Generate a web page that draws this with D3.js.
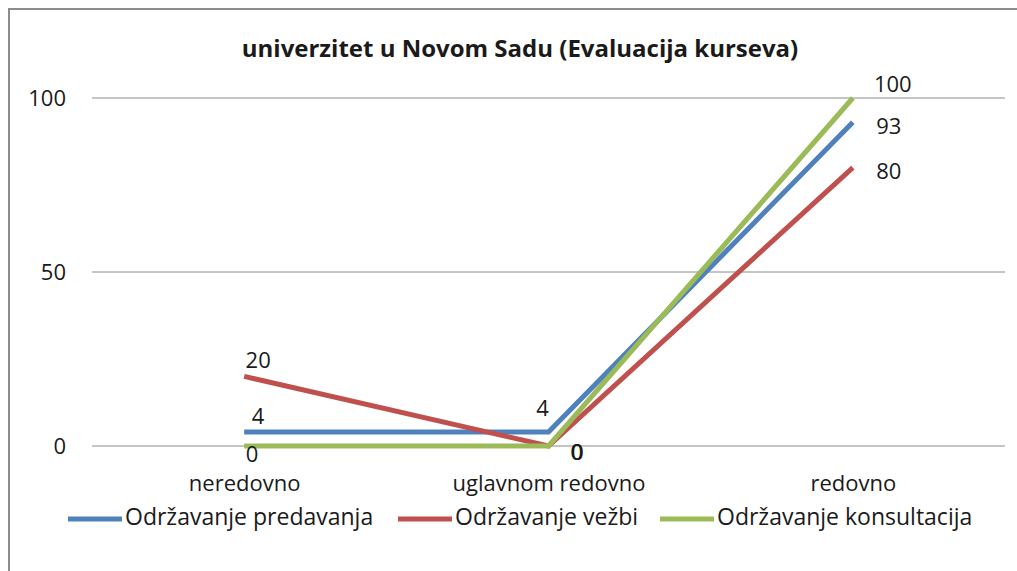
<!DOCTYPE html>
<html>
<head>
<meta charset="utf-8">
<script src="https://cdn.jsdelivr.net/npm/d3@7"></script>
<style>
  body { margin: 0; background: #fff; }
  text { font-family: "Open Sans", "Noto Sans", sans-serif; fill: #1a1a1a; }
</style>
</head>
<body>
<div id="chart"></div>
<script>
// chart data
const categories = ["neredovno", "uglavnom redovno", "redovno"];
const seriesNames = ["Održavanje predavanja", "Održavanje vežbi", "Održavanje konsultacija"];
const predavanja = [4, 4, 93];
const vezbi = [20, 0, 80];
const konsultacije = [0, 0, 100];
const yTicks = [0, 50, 100];
const titleText = "univerzitet u Novom Sadu (Evaluacija kurseva)";

const colors = ["#4F81BD", "#C0504D", "#9BBB59"];
// label offsets per series / point (dx, dy) relative to the point
const labelOffsets = [
    [[14, -14], [-6, -22], [36, 6]],
    [[14, -14], [28, 8], [36, 6]],
    [[8, 10], [29, 8], [40, -12]]
];

let width = 1017, height = 571;
let margin = { left: 92, right: 12, top: 98, bottom: 125 };
let fontSize = "22px";

let svg = d3.select("#chart").append("svg")
    .attr("width", width)
    .attr("height", height);

// frame
svg.append("path")
    .attr("d", "M9,571 V9 H1017")
    .attr("fill", "none")
    .attr("stroke", "#8c8c8c")
    .attr("stroke-width", 2);

let x = d3.scalePoint()
    .domain(categories)
    .range([margin.left, width - margin.right])
    .padding(0.5);

let y = d3.scaleLinear()
    .domain([0, 100])
    .range([height - margin.bottom, margin.top]);

// gridlines
svg.append("g").selectAll("line")
    .data(yTicks)
    .enter()
    .append("line")
    .attr("x1", margin.left)
    .attr("x2", width - margin.right)
    .attr("y1", d => y(d))
    .attr("y2", d => y(d))
    .attr("stroke", "#8a8a8a")
    .attr("stroke-width", 1);

let yAxis = d3.axisLeft(y).tickValues(yTicks).tickSize(0).tickPadding(26);
svg.append("g")
    .attr("transform", `translate(${margin.left},0)`)
    .call(yAxis)
    .call(g => g.select(".domain").remove())
    .selectAll("text")
    .style("font-size", fontSize)
    .style("font-family", '"Open Sans", sans-serif')
    .attr("fill", "#1a1a1a");

let xAxis = d3.axisBottom(x).tickSize(0).tickPadding(29);
svg.append("g")
    .attr("transform", `translate(0,${y(0)})`)
    .call(xAxis)
    .call(g => g.select(".domain").remove())
    .selectAll("text")
    .style("font-size", fontSize)
    .style("font-family", '"Open Sans", sans-serif')
    .attr("fill", "#1a1a1a");

// title
svg.append("text")
    .attr("x", 520)
    .attr("y", 57)
    .attr("text-anchor", "middle")
    .style("font-size", "24px")
    .style("font-weight", "bold")
    .text(titleText);

let allSeries = [predavanja, vezbi, konsultacije];

let line = d3.line()
    .x((d, i) => x(categories[i]))
    .y(d => y(d));

svg.append("g").selectAll("path")
    .data(allSeries)
    .enter()
    .append("path")
    .attr("d", d => line(d))
    .attr("fill", "none")
    .attr("stroke", (d, i) => colors[i])
    .attr("stroke-width", 5)
    .attr("stroke-linejoin", "miter");

// data labels
allSeries.forEach((vals, s) => {
    svg.append("g").selectAll("text")
        .data(vals)
        .enter()
        .append("text")
        .attr("x", (d, i) => x(categories[i]) + labelOffsets[s][i][0])
        .attr("y", (d, i) => y(d) + labelOffsets[s][i][1])
        .attr("text-anchor", "middle")
        .attr("dominant-baseline", "middle")
        .style("font-size", fontSize)
        .text(d => d);
});

// legend
let legendX = [68, 398, 660];
let legend = svg.append("g").selectAll("g")
    .data(seriesNames)
    .enter()
    .append("g")
    .attr("transform", (d, i) => `translate(${legendX[i]},519)`);

legend.append("line")
    .attr("x1", 0).attr("x2", 54)
    .attr("y1", 0).attr("y2", 0)
    .attr("stroke", (d, i) => colors[i])
    .attr("stroke-width", 5);

legend.append("text")
    .attr("x", 57)
    .attr("y", 0)
    .attr("dominant-baseline", "middle")
    .style("font-size", "23px")
    .text(d => d);
</script>
</body>
</html>
